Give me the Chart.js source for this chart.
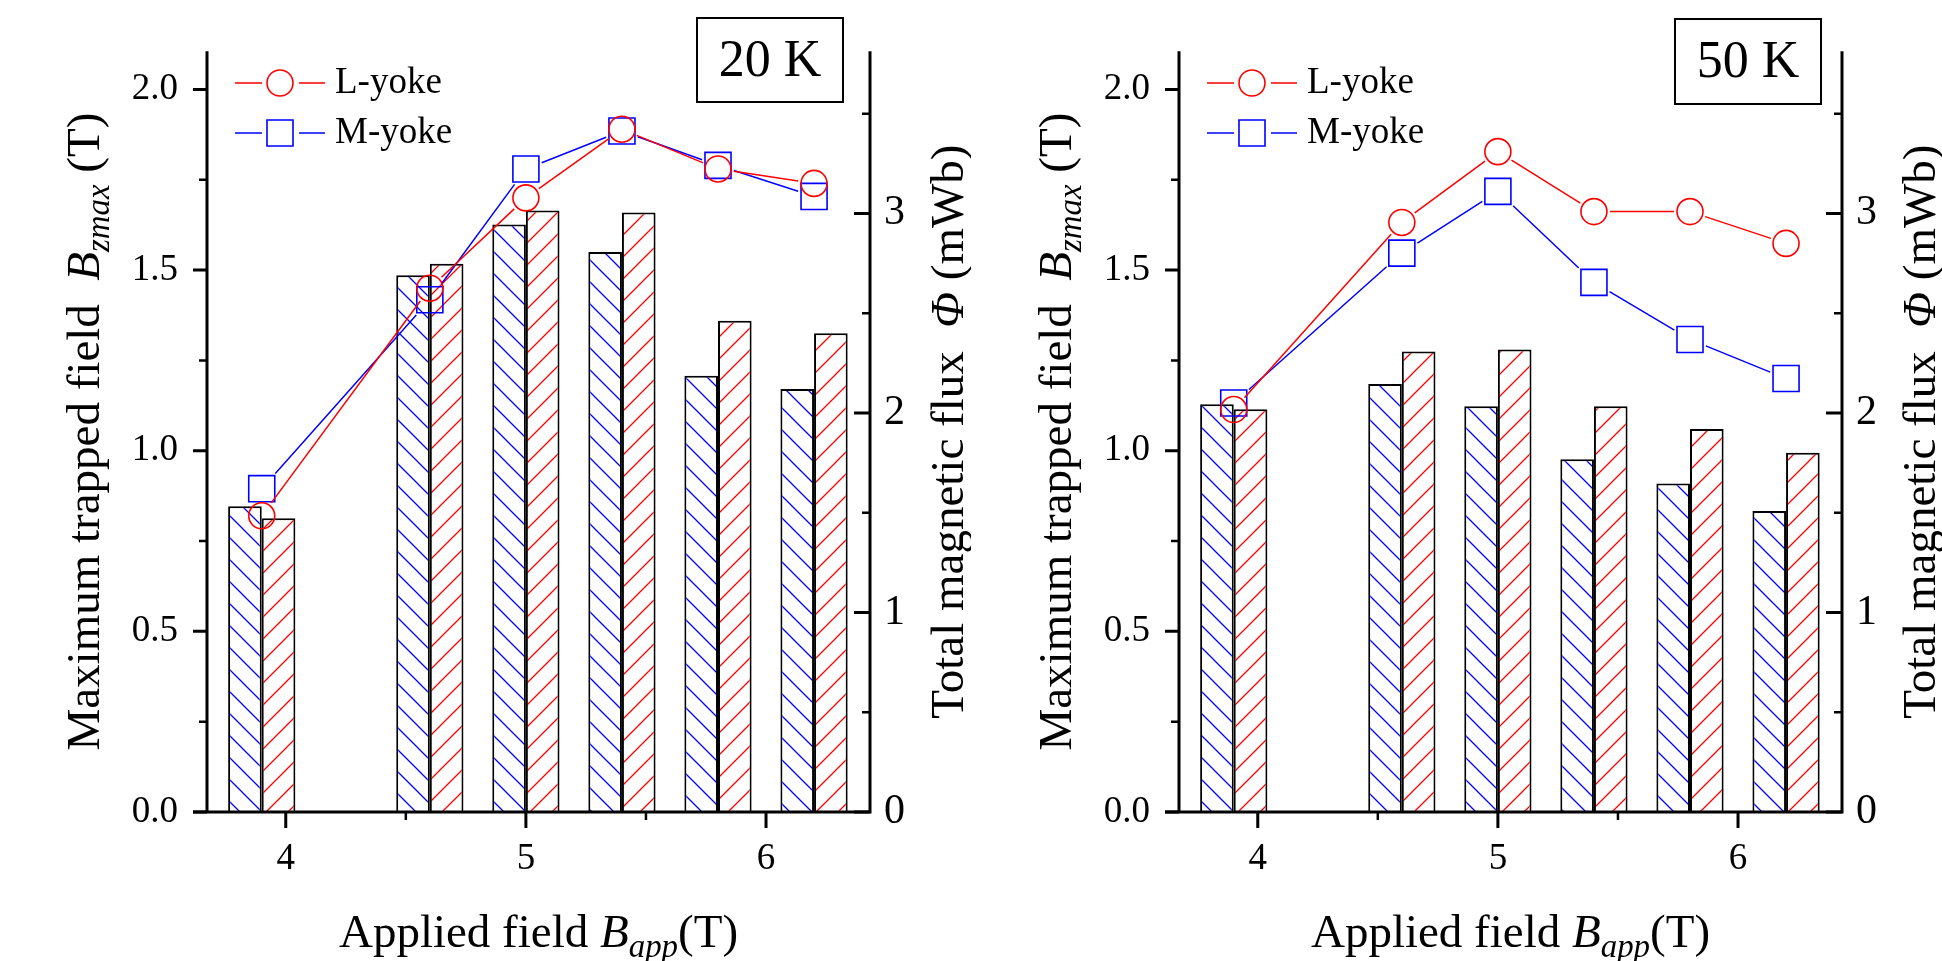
<!DOCTYPE html>
<html>
<head>
<meta charset="utf-8">
<script src="https://cdn.jsdelivr.net/npm/chart.js@4.4.0/dist/chart.umd.min.js"></script>
<style>
  html, body { margin: 0; padding: 0; background: #fff; overflow: hidden; }
  canvas { position: absolute; top: 0; }
  #chart20 { left: 0; }
  #chart50 { left: 972px; }
</style>
</head>
<body>
<canvas id="chart20" width="971" height="961"></canvas>
<canvas id="chart50" width="971" height="961"></canvas>
<script>
const FONT = "'Liberation Serif', 'Times New Roman', serif";

// applied field B_app (T), same for both temperatures
const appliedField = [3.9, 4.6, 5.0, 5.4, 5.8, 6.2];
const xTicks = [4, 5, 6];
const xMinorTicks = [4.5, 5.5];
const bzTicks = [0, 0.5, 1.0, 1.5, 2.0];
const bzMinorTicks = [0.25, 0.75, 1.25, 1.75];
const fluxTicks = [0, 1, 2, 3];
const fluxMinorTicks = [0.5, 1.5, 2.5, 3.5];

// 20 K : max trapped field (T) and total flux (mWb)
const bzL20 = [0.82, 1.45, 1.70, 1.89, 1.78, 1.74];
const bzM20 = [0.895, 1.418, 1.78, 1.885, 1.79, 1.704];
const fluxM20 = [1.532, 2.69, 2.944, 2.806, 2.186, 2.12];
const fluxL20 = [1.472, 2.748, 3.015, 3.004, 2.462, 2.40];

// 50 K
const bzL50 = [1.114, 1.632, 1.828, 1.662, 1.662, 1.574];
const bzM50 = [1.132, 1.547, 1.718, 1.466, 1.308, 1.20];
const fluxM50 = [2.043, 2.145, 2.034, 1.768, 1.646, 1.509];
const fluxL50 = [2.018, 2.308, 2.318, 2.034, 1.92, 1.801];

const xMin = 3.672, xMax = 6.433;
const bzMax = 2.106, fluxMax = 3.813;

function hatch(canvas, color, dir) {
  const s = 22;
  const c = document.createElement('canvas');
  c.width = s; c.height = s;
  const g = c.getContext('2d');
  g.fillStyle = '#fff';
  g.fillRect(0, 0, s, s);
  g.strokeStyle = color;
  g.lineWidth = 1.3;
  g.beginPath();
  if (dir === 'back') {
    g.moveTo(-2, -2); g.lineTo(s + 2, s + 2);
    g.moveTo(-2, s - 2); g.lineTo(2, s + 2);
    g.moveTo(s - 2, -2); g.lineTo(s + 2, 2);
  } else {
    g.moveTo(-2, s + 2); g.lineTo(s + 2, -2);
    g.moveTo(-2, 2); g.lineTo(2, -2);
    g.moveTo(s - 2, s + 2); g.lineTo(s + 2, s - 2);
  }
  g.stroke();
  return canvas.getContext('2d').createPattern(c, 'repeat');
}

// text with italic / subscript parts, centred on cx
function drawRich(ctx, parts, cx, baseY, size) {
  const items = parts.map(p => {
    const s = p.sub ? size * 0.7 : size;
    const f = (p.it ? 'italic ' : '') + s + 'px ' + FONT;
    ctx.font = f;
    return { t: p.t, f: f, w: ctx.measureText(p.t).width, dy: p.sub ? size * 0.22 : 0 };
  });
  const total = items.reduce((a, b) => a + b.w, 0);
  let x = cx - total / 2;
  ctx.textAlign = 'left';
  ctx.textBaseline = 'alphabetic';
  ctx.fillStyle = '#000';
  items.forEach(it => {
    ctx.font = it.f;
    ctx.fillText(it.t, x, baseY + it.dy);
    x += it.w;
  });
}

// connecting lines that stop short of the symbols (Origin style)
const gapLinePlugin = {
  id: 'gapLine',
  afterDatasetDraw(chart, args) {
    const ds = chart.data.datasets[args.index];
    if (ds.type !== 'line') return;
    const els = args.meta.data;
    const ctx = chart.ctx;
    const reach = (ux, uy) => {
      if (ds.pointStyle === 'rect') {
        const h = ds.pointRadius * Math.SQRT1_2;
        return h / Math.max(Math.abs(ux), Math.abs(uy));
      }
      return ds.pointRadius;
    };
    ctx.save();
    ctx.strokeStyle = ds.borderColor;
    ctx.lineWidth = ds.borderWidth;
    ctx.beginPath();
    for (let i = 1; i < els.length; i++) {
      const a = els[i - 1], b = els[i];
      const dx = b.x - a.x, dy = b.y - a.y, len = Math.hypot(dx, dy);
      if (!len) continue;
      const ux = dx / len, uy = dy / len;
      const g = reach(ux, uy) + 3;
      if (len <= 2 * g) continue;
      ctx.moveTo(a.x + ux * g, a.y + uy * g);
      ctx.lineTo(b.x - ux * g, b.y - uy * g);
    }
    ctx.stroke();
    ctx.restore();
  }
};

const framePlugin = {
  id: 'frame',
  afterDraw(chart, args, opts) {
    const ctx = chart.ctx;
    const { left, right, top, bottom } = chart.chartArea;
    const sx = chart.scales.x, sy = chart.scales.y, sf = chart.scales.y1;
    ctx.save();
    ctx.strokeStyle = '#000';

    // axis lines
    ctx.lineWidth = 3;
    ctx.beginPath();
    ctx.moveTo(left, top); ctx.lineTo(left, bottom);
    ctx.moveTo(right, top); ctx.lineTo(right, bottom + 1.5);
    ctx.moveTo(left - 14, bottom); ctx.lineTo(right + 1.5, bottom);
    ctx.stroke();

    // tick marks
    ctx.beginPath();
    bzTicks.forEach(v => { const p = sy.getPixelForValue(v); ctx.moveTo(left - 14, p); ctx.lineTo(left, p); });
    fluxTicks.forEach(v => { const p = sf.getPixelForValue(v); ctx.moveTo(right - 16, p); ctx.lineTo(right, p); });
    xTicks.forEach(v => { const p = sx.getPixelForValue(v); ctx.moveTo(p, bottom); ctx.lineTo(p, bottom + 16); });
    ctx.stroke();
    ctx.lineWidth = 2.5;
    ctx.beginPath();
    bzMinorTicks.forEach(v => { const p = sy.getPixelForValue(v); ctx.moveTo(left - 8, p); ctx.lineTo(left, p); });
    fluxMinorTicks.forEach(v => { const p = sf.getPixelForValue(v); ctx.moveTo(right - 8, p); ctx.lineTo(right, p); });
    xMinorTicks.forEach(v => { const p = sx.getPixelForValue(v); ctx.moveTo(p, bottom); ctx.lineTo(p, bottom + 8); });
    ctx.stroke();

    // axis titles
    const ts = 47;
    drawRich(ctx, [{ t: 'Applied field ' }, { t: 'B', it: true }, { t: 'app', it: true, sub: true }, { t: '(T)' }],
      (left + right) / 2, 947, ts);
    ctx.save();
    ctx.translate(99, (top + bottom) / 2);
    ctx.rotate(-Math.PI / 2);
    drawRich(ctx, [{ t: 'Maximum trapped field  ' }, { t: 'B', it: true }, { t: 'zmax', it: true, sub: true }, { t: ' (T)' }], 0, 0, ts);
    ctx.restore();
    ctx.save();
    ctx.translate(963, (top + bottom) / 2);
    ctx.rotate(-Math.PI / 2);
    drawRich(ctx, [{ t: 'Total magnetic flux  ' }, { t: '\u03A6', it: true }, { t: ' (mWb)' }], 0, 0, ts);
    ctx.restore();

    // legend for the two line series
    const lines = chart.data.datasets.filter(d => d.type === 'line');
    lines.forEach((d, i) => {
      const y = 83 + i * 50;
      ctx.strokeStyle = d.borderColor;
      ctx.lineWidth = 1.5;
      ctx.beginPath();
      ctx.moveTo(235, y); ctx.lineTo(262, y);
      ctx.moveTo(299, y); ctx.lineTo(325, y);
      ctx.stroke();
      ctx.lineWidth = 1.6;
      ctx.beginPath();
      if (d.pointStyle === 'rect') {
        const h = d.pointRadius * Math.SQRT1_2;
        ctx.rect(280 - h, y - h, 2 * h, 2 * h);
      } else {
        ctx.arc(280, y, d.pointRadius, 0, Math.PI * 2);
      }
      ctx.stroke();
      ctx.fillStyle = '#000';
      ctx.font = '37px ' + FONT;
      ctx.textAlign = 'left';
      ctx.textBaseline = 'middle';
      ctx.fillText(d.label, 335, y);
    });

    // temperature box
    const b = opts.box;
    ctx.strokeStyle = '#000';
    ctx.lineWidth = 2;
    ctx.strokeRect(b[0], b[1], b[2], b[3]);
    ctx.fillStyle = '#000';
    ctx.font = '52px ' + FONT;
    ctx.textAlign = 'center';
    ctx.textBaseline = 'middle';
    ctx.fillText(opts.label, b[0] + b[2] / 2, b[1] + b[3] / 2 + 2);
    ctx.restore();
  }
};

function pts(ys) {
  return appliedField.map((x, i) => ({ x: x, y: ys[i] }));
}

function makeChart(id, label, box, bzL, bzM, fluxL, fluxM) {
  const canvas = document.getElementById(id);
  return new Chart(canvas, {
    type: 'bar',
    data: {
      datasets: [
        {
          type: 'line', label: 'L-yoke', data: pts(bzL), yAxisID: 'y', order: 0, showLine: false,
          borderColor: '#ff0000', borderWidth: 1.5, pointStyle: 'circle', pointRadius: 13,
          pointBorderWidth: 1.6, pointBackgroundColor: 'rgba(0,0,0,0)', pointBorderColor: '#ff0000'
        },
        {
          type: 'line', label: 'M-yoke', data: pts(bzM), yAxisID: 'y', order: 0, showLine: false,
          borderColor: '#0000ff', borderWidth: 1.5, pointStyle: 'rect', pointRadius: 18.4,
          pointBorderWidth: 1.6, pointBackgroundColor: 'rgba(0,0,0,0)', pointBorderColor: '#0000ff'
        },
        {
          type: 'bar', label: 'M-yoke flux', data: pts(fluxM), yAxisID: 'y1', order: 1,
          backgroundColor: hatch(canvas, '#0000ff', 'back'), borderColor: '#000', borderWidth: 2,
          categoryPercentage: 0.7, barPercentage: 1.0
        },
        {
          type: 'bar', label: 'L-yoke flux', data: pts(fluxL), yAxisID: 'y1', order: 1,
          backgroundColor: hatch(canvas, '#ff0000', 'fwd'), borderColor: '#000', borderWidth: 2,
          categoryPercentage: 0.7, barPercentage: 1.0
        }
      ]
    },
    options: {
      responsive: false,
      animation: false,
      layout: { padding: { top: 33, left: 0, right: 0, bottom: 0 } },
      plugins: {
        legend: { display: false },
        tooltip: { enabled: false },
        frame: { label: label, box: box }
      },
      scales: {
        x: {
          type: 'linear', min: xMin, max: xMax, offset: false,
          grid: { display: false, drawTicks: false }, border: { display: false },
          afterBuildTicks: s => { s.ticks = xTicks.map(v => ({ value: v })); },
          afterFit: s => { s.height = 149; },
          ticks: { color: '#000', font: { family: FONT, size: 37 }, padding: 25, maxRotation: 0, autoSkip: false,
                   callback: v => String(v) }
        },
        y: {
          position: 'left', min: 0, max: bzMax,
          grid: { display: false, drawTicks: false }, border: { display: false },
          afterBuildTicks: s => { s.ticks = bzTicks.map(v => ({ value: v })); },
          afterFit: s => { s.width = 207; },
          ticks: { color: '#000', font: { family: FONT, size: 37 }, padding: 29, callback: v => v.toFixed(1) }
        },
        y1: {
          position: 'right', min: 0, max: fluxMax,
          grid: { display: false, drawTicks: false }, border: { display: false },
          afterBuildTicks: s => { s.ticks = fluxTicks.map(v => ({ value: v })); },
          afterFit: s => { s.width = 101; },
          ticks: { color: '#000', font: { family: FONT, size: 42 }, padding: 14, callback: v => String(v) }
        }
      }
    },
    plugins: [gapLinePlugin, framePlugin]
  });
}

makeChart('chart20', '20 K', [697, 18, 146, 84], bzL20, bzM20, fluxL20, fluxM20);
makeChart('chart50', '50 K', [703, 19, 146, 85], bzL50, bzM50, fluxL50, fluxM50);
</script>
</body>
</html>
